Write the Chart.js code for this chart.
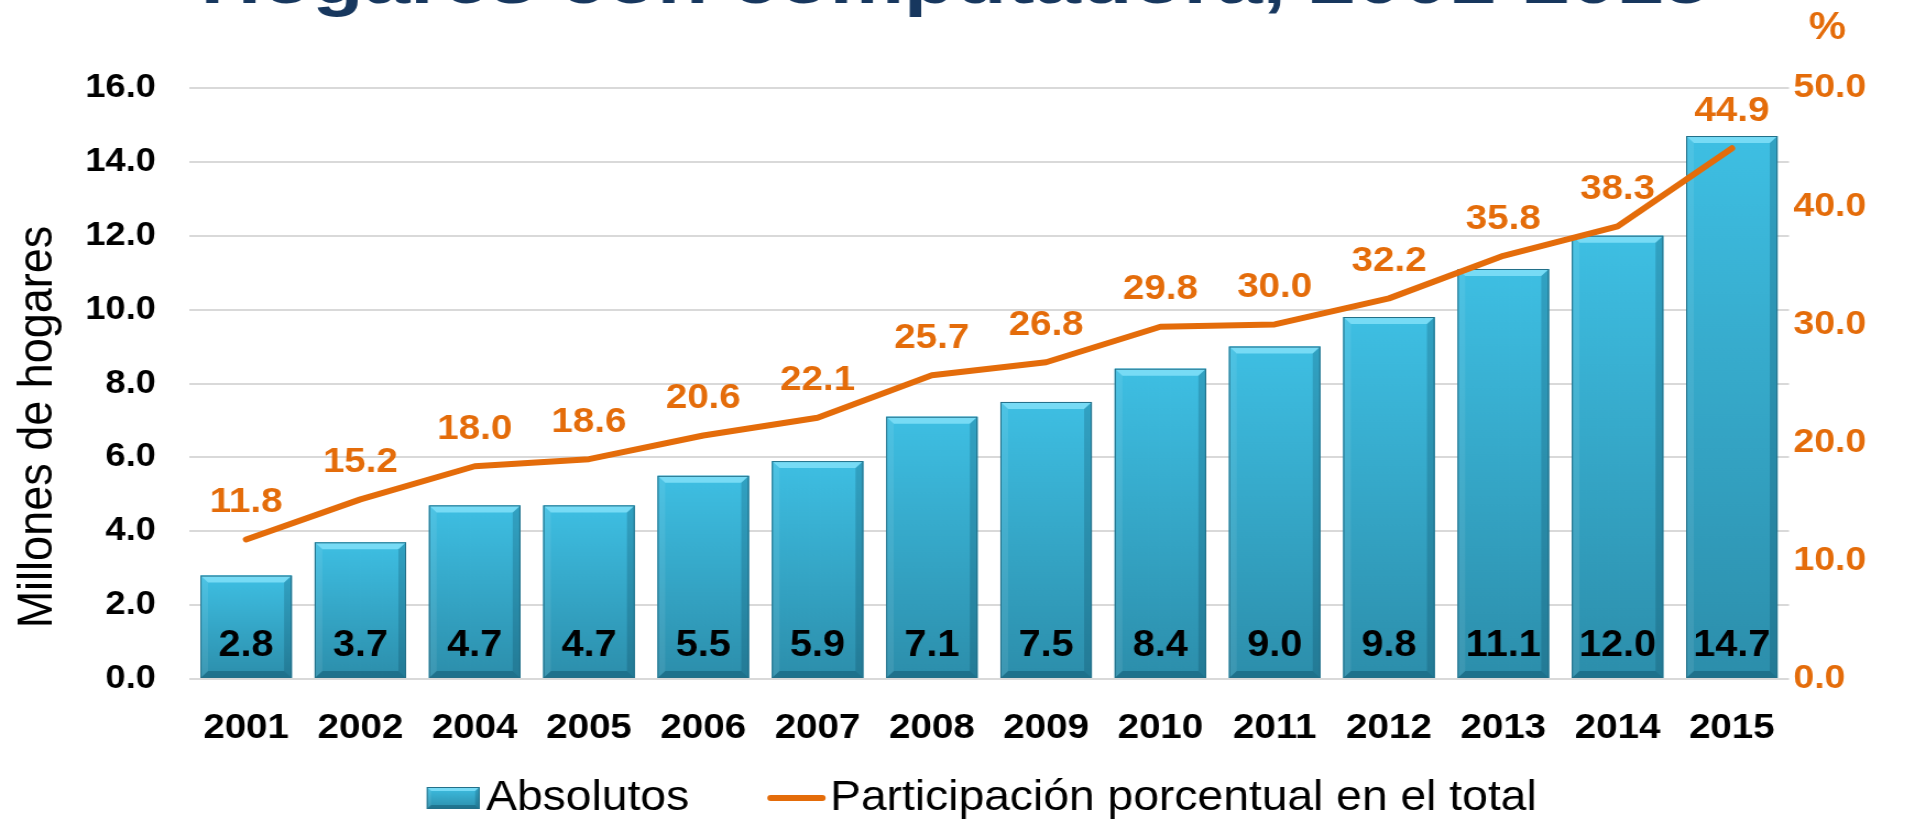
<!DOCTYPE html>
<html lang="es">
<head>
<meta charset="utf-8">
<title>Hogares con computadora, 2001-2015</title>
<script src="https://cdn.jsdelivr.net/npm/chart.js@4.4.1/dist/chart.umd.min.js"></script>
<style>
  html, body { margin: 0; padding: 0; background: #fff; overflow: hidden; }
  canvas { display: block; }
</style>
</head>
<body>
<!-- drawn a bit narrower and stretched, the reference picture is widened -->
<canvas id="grafica" width="1740" height="823" style="width:1915px;height:823px"></canvas>
<script>
const titulo = 'Hogares con computadora, 2001-2015';
const ejeTitulo = 'Millones de hogares';
const years = ['2001', '2002', '2004', '2005', '2006', '2007', '2008', '2009', '2010', '2011', '2012', '2013', '2014', '2015'];
const absolutos = [2.8, 3.7, 4.7, 4.7, 5.5, 5.9, 7.1, 7.5, 8.4, 9.0, 9.8, 11.1, 12.0, 14.7];
const participacion = [11.8, 15.2, 18.0, 18.6, 20.6, 22.1, 25.7, 26.8, 29.8, 30.0, 32.2, 35.8, 38.3, 44.9];
const ejeHogares = [0, 16, 2]; // min, max, step
const ejePorcentaje = [0, 50, 10];

const FONT = "'Liberation Sans', Arial, sans-serif";
const ORANGE = '#E46C0A';
const NAVY = '#17375E';

const poly = (ctx, pts, color) => {
  ctx.beginPath();
  pts.forEach(([x, y], i) => (i ? ctx.lineTo(x, y) : ctx.moveTo(x, y)));
  ctx.closePath();
  ctx.fillStyle = color;
  ctx.fill();
};

// bevelled bar, like the office chart
const paintBar = (ctx, l, t, w, h, b) => {
  const r = l + w, bot = t + h;
  const g = ctx.createLinearGradient(0, t, 0, bot);
  g.addColorStop(0, '#3EBFE3');
  g.addColorStop(1, '#2C8EAB');
  ctx.fillStyle = g;
  ctx.fillRect(l, t, w, h);
  poly(ctx, [[l, t], [r, t], [r - b, t + b], [l + b, t + b]], 'rgba(125,222,247,0.9)');
  poly(ctx, [[r, t], [r, bot], [r - b, bot - b], [r - b, t + b]], 'rgba(0,45,65,0.2)');
  poly(ctx, [[l, bot], [r, bot], [r - b, bot - b], [l + b, bot - b]], 'rgba(0,45,65,0.3)');
  poly(ctx, [[l, t], [l + b, t + b], [l + b, bot - b], [l, bot]], 'rgba(255,255,255,0.08)');
  ctx.strokeStyle = '#236F88';
  ctx.lineWidth = 1;
  ctx.strokeRect(l + 0.5, t + 0.5, w - 1, h - 1);
};

const barStyle = {
  id: 'barStyle',
  afterDatasetDraw(chart, args) {
    if (args.index !== 0) return;
    const ctx = chart.ctx;
    args.meta.data.forEach((bar, i) => {
      const { x, y, base, width } = bar.getProps(['x', 'y', 'base', 'width'], true);
      ctx.save();
      paintBar(ctx, x - width / 2, y, width, base - y, 7);
      ctx.fillStyle = '#000';
      ctx.font = `bold 36px ${FONT}`;
      ctx.textAlign = 'center';
      ctx.textBaseline = 'middle';
      ctx.fillText(absolutos[i].toFixed(1), x, base - 32);
      ctx.restore();
    });
  },
  afterDatasetsDraw(chart) {
    const ctx = chart.ctx;
    ctx.save();
    ctx.fillStyle = ORANGE;
    ctx.font = `bold 35px ${FONT}`;
    ctx.textAlign = 'center';
    ctx.textBaseline = 'middle';
    chart.getDatasetMeta(1).data.forEach((pt, i) => {
      ctx.fillText(participacion[i].toFixed(1), pt.x, pt.y - 37);
    });
    ctx.restore();
  },
};

const extras = {
  id: 'extras',
  afterDraw(chart) {
    const ctx = chart.ctx;
    ctx.save();

    // title, cut off at the top edge (wider letters than the rest)
    ctx.save();
    ctx.translate(chart.width / 2 - 2, 3);
    ctx.scale(1.12, 1);
    ctx.fillStyle = NAVY;
    ctx.font = `bold 68px ${FONT}`;
    ctx.textAlign = 'center';
    ctx.textBaseline = 'alphabetic';
    ctx.fillText(titulo, 0, 0);
    ctx.restore();

    // left axis title
    ctx.save();
    ctx.translate(35, 427);
    ctx.rotate(-Math.PI / 2);
    ctx.fillStyle = '#000';
    ctx.font = `45px ${FONT}`;
    ctx.textAlign = 'center';
    ctx.textBaseline = 'middle';
    ctx.fillText(ejeTitulo, 0, 0);
    ctx.restore();

    // % over the right axis
    ctx.fillStyle = ORANGE;
    ctx.font = `bold 38px ${FONT}`;
    ctx.textAlign = 'left';
    ctx.textBaseline = 'middle';
    ctx.fillText('%', chart.scales.y1.left + 18, 29);

    // legend
    const [bars, line] = chart.data.datasets;
    ctx.font = `42px ${FONT}`;
    const w1 = ctx.measureText(bars.label).width;
    const w2 = ctx.measureText(line.label).width;
    const total = 48 + 6 + w1 + 71 + 53 + 4 + w2;
    let x = chart.width / 2 + 22 - total / 2;
    const cy = 798;
    paintBar(ctx, x, cy - 11, 48, 22, 4);
    x += 54;
    ctx.fillStyle = '#000';
    ctx.fillText(bars.label, x, cy);
    x += w1 + 71;
    ctx.strokeStyle = ORANGE;
    ctx.lineWidth = 6;
    ctx.lineCap = 'round';
    ctx.beginPath();
    ctx.moveTo(x + 3, cy);
    ctx.lineTo(x + 50, cy);
    ctx.stroke();
    x += 57;
    ctx.fillStyle = '#000';
    ctx.fillText(line.label, x, cy);

    ctx.restore();
  },
};

new Chart(document.getElementById('grafica'), {
  data: {
    labels: years,
    datasets: [
      {
        type: 'bar',
        label: 'Absolutos',
        data: absolutos,
        yAxisID: 'y',
        backgroundColor: '#35A6C8',
        borderWidth: 0,
        barPercentage: 0.8,
        categoryPercentage: 1,
        order: 1,
      },
      {
        type: 'line',
        label: 'Participación porcentual en el total',
        data: participacion,
        yAxisID: 'y1',
        borderColor: ORANGE,
        borderWidth: 6,
        borderCapStyle: 'round',
        borderJoinStyle: 'round',
        pointRadius: 0,
        tension: 0,
        order: 0,
      },
    ],
  },
  options: {
    responsive: false,
    devicePixelRatio: 1,
    animation: false,
    layout: { padding: { top: 88, left: 0, right: 0, bottom: 0 } },
    plugins: {
      legend: { display: false },
      tooltip: { enabled: false },
    },
    scales: {
      x: {
        grid: { display: false },
        border: { display: false },
        ticks: {
          color: '#000',
          font: { family: FONT, size: 35, weight: 'bold' },
          padding: 20,
          maxRotation: 0,
          autoSkip: false,
        },
        afterFit: s => { s.height = 144; },
      },
      y: {
        position: 'left',
        min: ejeHogares[0],
        max: ejeHogares[1],
        grid: { color: '#D9D9D9', lineWidth: 2, drawTicks: false },
        border: { display: false },
        ticks: {
          stepSize: ejeHogares[2],
          color: '#000',
          font: { family: FONT, size: 33, weight: 'bold' },
          padding: 30,
          callback: v => v.toFixed(1),
        },
        afterFit: s => { s.width = 171.7; },
      },
      y1: {
        position: 'right',
        min: ejePorcentaje[0],
        max: ejePorcentaje[1],
        grid: { drawOnChartArea: false, drawTicks: false },
        border: { display: false },
        ticks: {
          stepSize: ejePorcentaje[2],
          color: ORANGE,
          font: { family: FONT, size: 34, weight: 'bold' },
          padding: 4,
          callback: v => v.toFixed(1),
        },
        afterFit: s => { s.width = 114.5; },
      },
    },
  },
  plugins: [barStyle, extras],
});
</script>
</body>
</html>
